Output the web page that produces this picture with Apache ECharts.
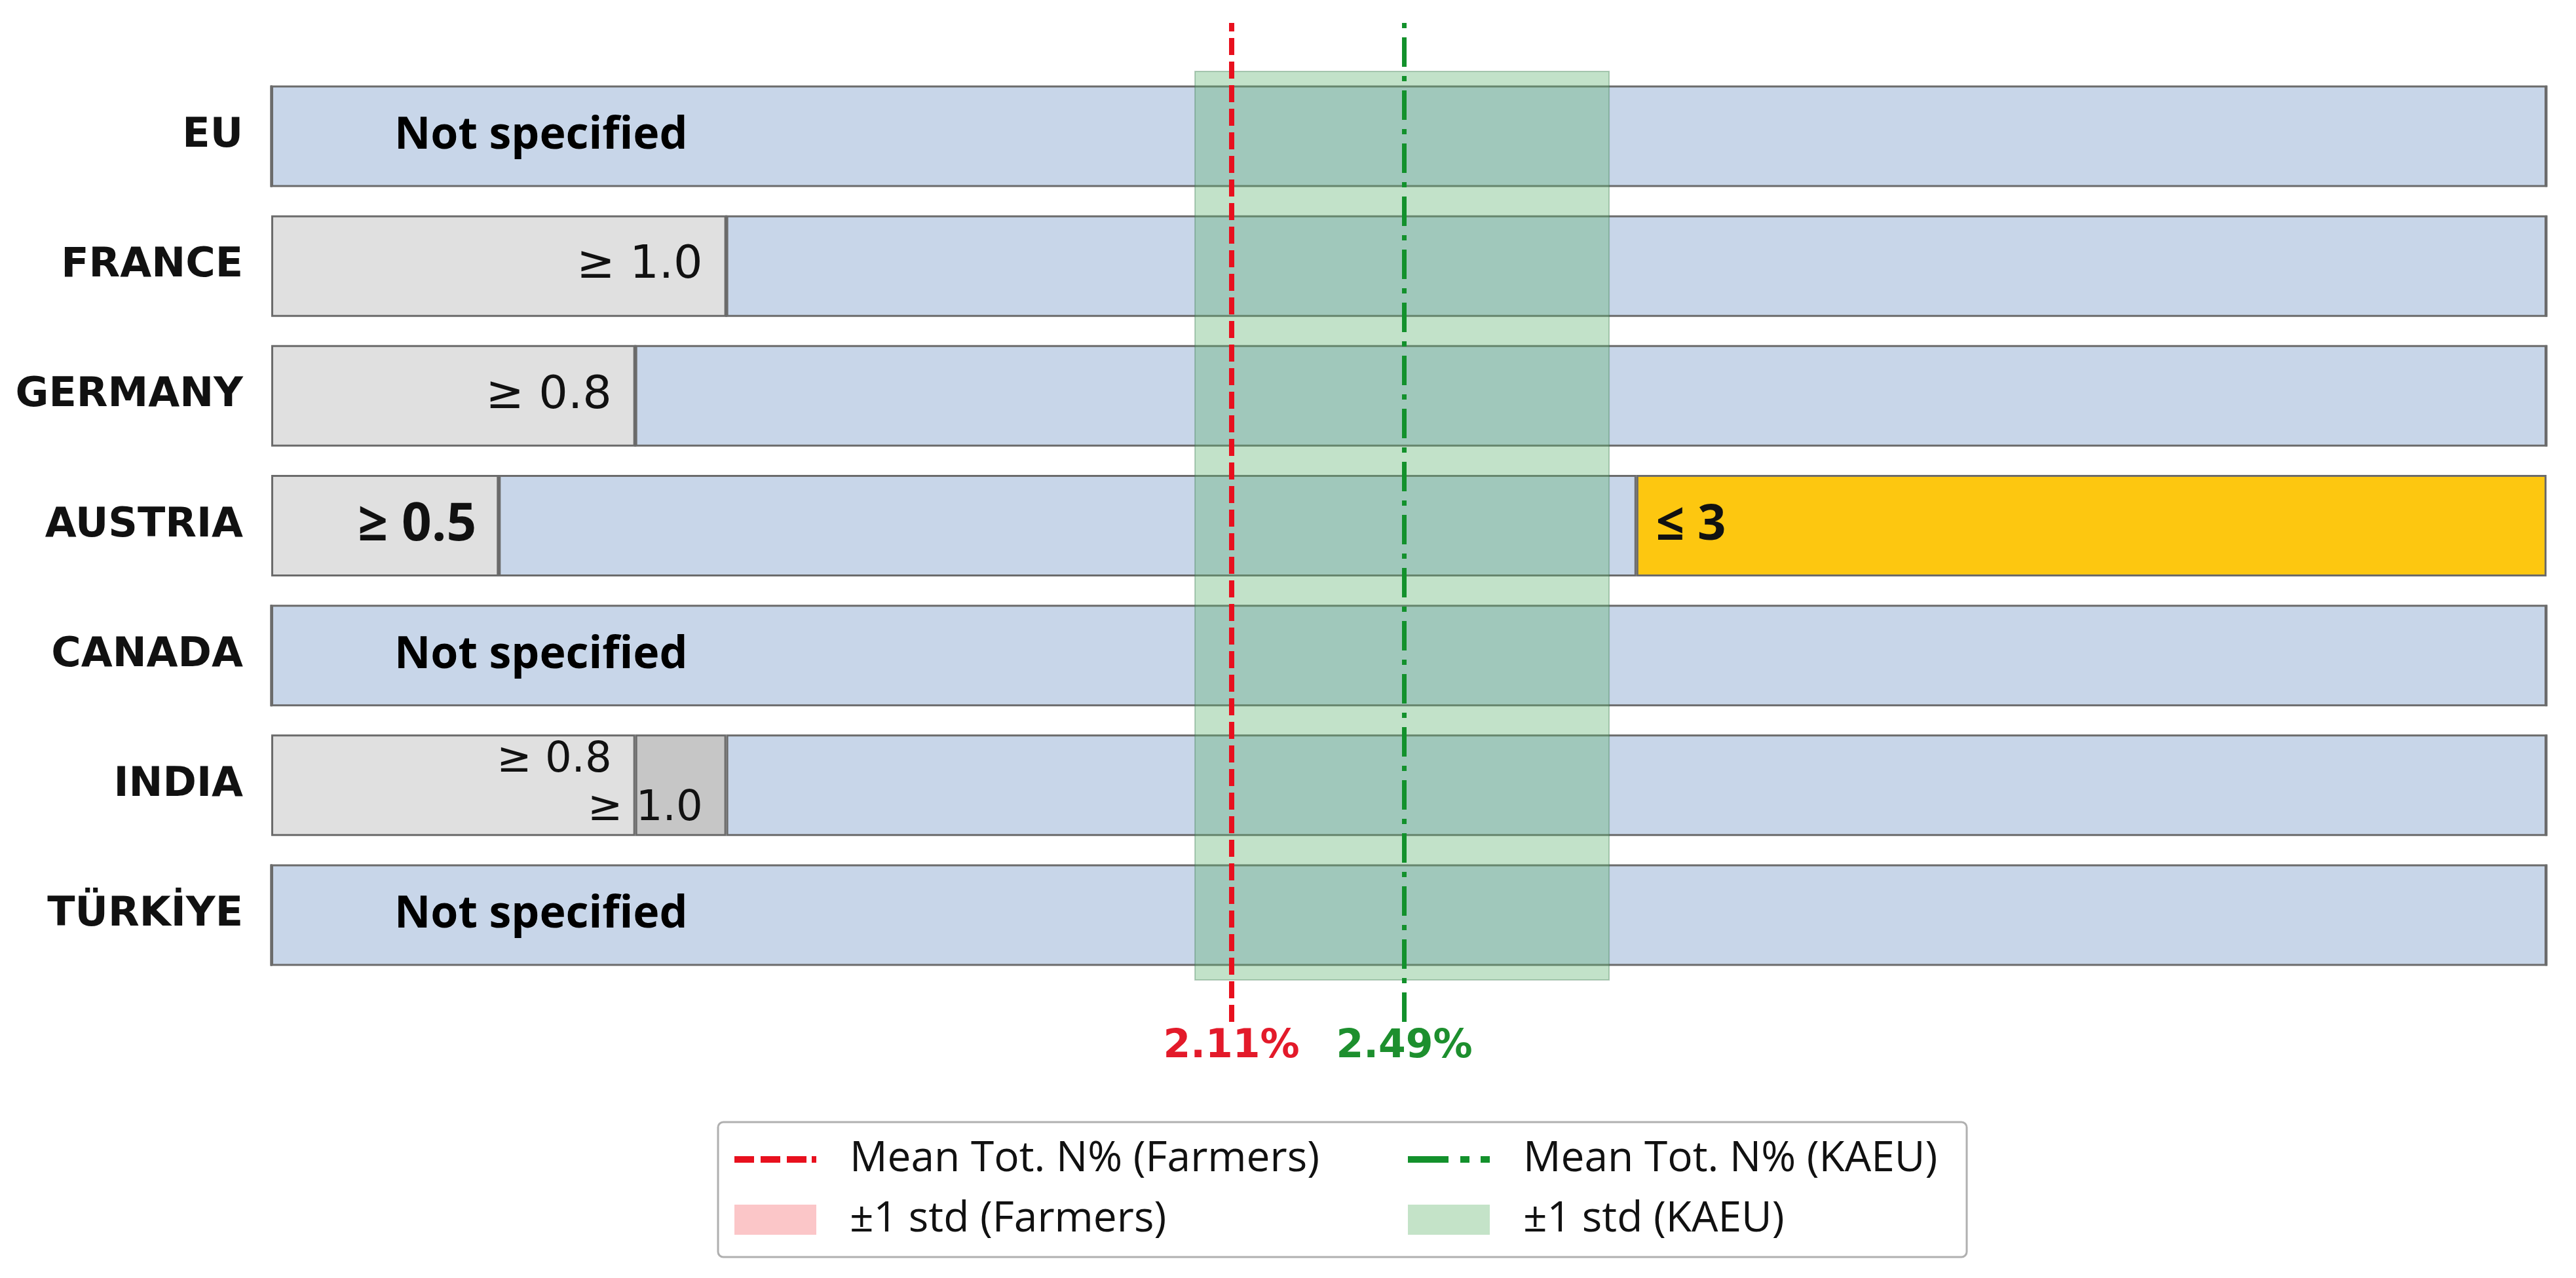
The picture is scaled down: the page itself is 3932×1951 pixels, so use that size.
<!DOCTYPE html>
<html>
<head>
<meta charset="utf-8">
<script src="https://cdn.jsdelivr.net/npm/echarts@6/dist/echarts.min.js"></script>
<style>
  html, body { margin: 0; padding: 0; background: #fff; }
  #chart { width: 3932px; height: 1951px; }
</style>
</head>
<body>
<div id="chart"></div>
<script>
const countries = ['EU', 'FRANCE', 'GERMANY', 'AUSTRIA', 'CANADA', 'INDIA', 'TÜRKİYE']
// lower / upper limits of total N% per country (null = not specified)
const minLimit = [null, 1.0, 0.8, 0.5, null, 0.8, null]
const minLimit2 = [null, null, null, null, null, 1.0, null]
const maxLimit = [null, null, null, 3, null, null, null]
const axisMax = 5
const meanFarmers = 2.11
const meanKAEU = 2.49
const stdKAEU = [2.03, 2.94]

const chart = echarts.init(document.getElementById('chart'))

const border = {borderColor: '#6b6b6b', borderWidth: 3}
const labelFont = 'DejaVu Sans'

// legend icons drawn as dash patterns
const dashIcon = 'path://M0,0h30v10h-30z M40,0h30v10h-30z M80,0h30v10h-30z M118,0h7v10h-7z'
const dashDotIcon = 'path://M0,0h62v10h-62z M80,0h14v10h-14z M111,0h14v10h-14z'

// segments of each stacked bar
const gray1 = countries.map((c, i) => {
  const v = minLimit[i] || 0
  if (!minLimit[i]) return v
  const lab = {show: true, position: 'insideRight', distance: 36, formatter: '≥ ' + minLimit[i].toFixed(1),
    fontFamily: labelFont, fontSize: 70, color: '#111'}
  if (c === 'AUSTRIA') {
    Object.assign(lab, {fontFamily: 'Open Sans', fontWeight: 'bold', fontSize: 80, distance: 34})
  }
  if (minLimit2[i]) {
    Object.assign(lab, {fontSize: 64, offset: [0, -37]})
  }
  return {value: v, label: lab}
})
const gray2 = countries.map((c, i) => {
  if (!minLimit2[i]) return 0
  return {
    value: minLimit2[i] - minLimit[i],
    label: {show: true, position: 'insideRight', distance: 36, offset: [0, 37], formatter: '≥ ' + minLimit2[i].toFixed(1),
      fontFamily: labelFont, fontSize: 64, color: '#111'}
  }
})
const blue = countries.map((c, i) => {
  const start = minLimit2[i] || minLimit[i] || 0
  const v = (maxLimit[i] || axisMax) - start
  if (minLimit[i] || maxLimit[i]) return v
  return {
    value: v,
    label: {show: true, position: 'insideLeft', distance: 188, formatter: 'Not specified',
      fontFamily: 'Open Sans', fontWeight: 'bold', fontSize: 68, color: '#000'}
  }
})
const yellow = countries.map((c, i) => {
  if (!maxLimit[i]) return 0
  return {
    value: axisMax - maxLimit[i],
    label: {show: true, position: 'insideLeft', distance: 30, formatter: '≤ ' + maxLimit[i],
      fontFamily: 'Open Sans', fontWeight: 'bold', fontSize: 76, color: '#111'}
  }
})

const barBase = {type: 'bar', stack: 'limits', barWidth: 155, xAxisIndex: 0, yAxisIndex: 0, z: 2}

const option = {
  animation: false,
  backgroundColor: '#fff',
  grid: [
    {left: 414, right: 45, top: 109, bottom: 455},
    {left: 414, right: 45, top: 35, bottom: 391}
  ],
  xAxis: [
    {type: 'value', gridIndex: 0, min: 0, max: axisMax, show: false},
    {type: 'value', gridIndex: 1, min: 0, max: axisMax, show: false}
  ],
  yAxis: [
    {
      type: 'category', gridIndex: 0, data: countries, inverse: true,
      axisLine: {show: false}, axisTick: {show: false}, splitLine: {show: false},
      axisLabel: {margin: 43, fontFamily: labelFont, fontWeight: 'bold', fontSize: 62, color: '#111'}
    },
    {type: 'value', gridIndex: 1, min: 0, max: 1, show: false}
  ],
  legend: {
    left: 1096, top: 1713, width: 1870,
    orient: 'horizontal',
    itemWidth: 125, itemHeight: 46, itemGap: 22,
    padding: [22, 17, 22, 25],
    borderColor: '#b0b0b0', borderWidth: 3, borderRadius: 8,
    backgroundColor: '#fff',
    textStyle: {fontFamily: 'Open Sans', fontSize: 64, color: '#111', lineHeight: 70, padding: [0, 0, 0, 46]},
    data: [
      {name: 'Mean Tot. N% (Farmers)', icon: dashIcon, textStyle: {width: 830, overflow: 'none'}},
      {name: 'Mean Tot. N% (KAEU)', icon: dashDotIcon, textStyle: {width: 660, overflow: 'none'}},
      {name: '±1 std (Farmers)', icon: 'rect', textStyle: {width: 830, overflow: 'none'}},
      {name: '±1 std (KAEU)', icon: 'rect', textStyle: {width: 660, overflow: 'none'}}
    ]
  },
  series: [
    {...barBase, name: 'min', data: gray1, itemStyle: {color: '#e0e0e0', ...border}},
    {...barBase, name: 'min2', data: gray2, itemStyle: {color: '#c6c6c6', ...border}},
    {...barBase, name: 'range', data: blue, itemStyle: {color: '#c8d6e9', ...border}},
    {...barBase, name: 'max', data: yellow, itemStyle: {color: '#fdc710', ...border}},
    {
      name: '±1 std (KAEU)', type: 'line', xAxisIndex: 0, yAxisIndex: 0, data: [], z: 10,
      itemStyle: {color: '#c4e3c8'},
      markArea: {
        silent: true, z: 10,
        itemStyle: {color: 'rgba(95, 178, 112, 0.38)', borderColor: 'rgba(60, 120, 80, 0.35)', borderWidth: 2},
        data: [[{xAxis: stdKAEU[0]}, {xAxis: stdKAEU[1]}]]
      }
    },
    {
      name: '±1 std (Farmers)', type: 'line', xAxisIndex: 1, yAxisIndex: 1, data: [],
      itemStyle: {color: '#fbc6c8'}
    },
    {
      name: 'Mean Tot. N% (Farmers)', type: 'line', xAxisIndex: 1, yAxisIndex: 1, data: [], z: 12,
      symbol: 'none',
      itemStyle: {color: '#e8101e'},
      markLine: {
        silent: true, z: 12, symbol: ['none', 'none'],
        lineStyle: {color: '#e8101e', width: 8, type: [26, 10]},
        label: {position: 'start', distance: 8, formatter: meanFarmers.toFixed(2) + '%',
          fontFamily: labelFont, fontWeight: 'bold', fontSize: 60, color: '#e31a2a'},
        data: [{xAxis: meanFarmers}]
      }
    },
    {
      name: 'Mean Tot. N% (KAEU)', type: 'line', xAxisIndex: 1, yAxisIndex: 1, data: [], z: 12,
      symbol: 'none',
      itemStyle: {color: '#13912c'},
      markLine: {
        silent: true, z: 12, symbol: ['none', 'none'],
        lineStyle: {color: '#13912c', width: 7, type: [45, 14, 8, 14]},
        label: {position: 'start', distance: 8, formatter: meanKAEU.toFixed(2) + '%',
          fontFamily: labelFont, fontWeight: 'bold', fontSize: 60, color: '#1d8f2e'},
        data: [{xAxis: meanKAEU}]
      }
    }
  ]
}

chart.setOption(option)
</script>
</body>
</html>
